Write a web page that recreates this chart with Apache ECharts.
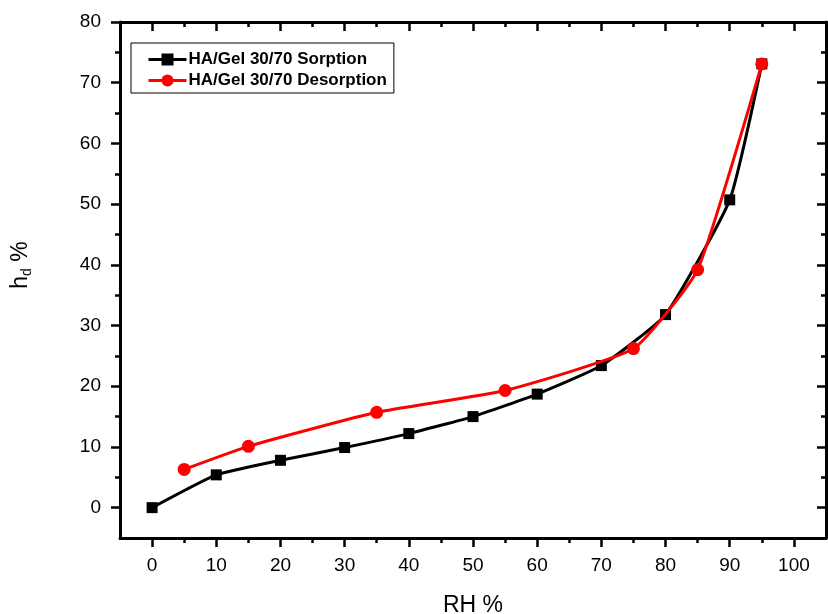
<!DOCTYPE html>
<html>
<head>
<meta charset="utf-8">
<script src="https://cdn.jsdelivr.net/npm/echarts@6/dist/echarts.min.js"></script>
<style>
  html, body { margin: 0; padding: 0; background: #fff; }
  #chart { width: 828px; height: 614px; }
</style>
</head>
<body>
<div id="chart"></div>
<script>
// Relative humidity (%) and hysteresis-loop values h_d (%)
const sorptionRH = [0, 10, 20, 30, 40, 50, 60, 70, 80, 90, 95];
const sorptionHd = [0, 5.4, 7.8, 9.9, 12.2, 15.0, 18.7, 23.4, 31.8, 50.7, 73.1];
const desorptionRH = [5, 15, 35, 55, 75, 85, 95];
const desorptionHd = [6.3, 10.1, 15.7, 19.3, 26.2, 39.2, 73.1];

const sorptionName = 'HA/Gel 30/70 Sorption';
const desorptionName = 'HA/Gel 30/70 Desorption';

const xMajor = [0, 10, 20, 30, 40, 50, 60, 70, 80, 90, 100];
const xMinor = [5, 15, 25, 35, 45, 55, 65, 75, 85, 95];
const yMajor = [0, 10, 20, 30, 40, 50, 60, 70, 80];
const yMinor = [5, 15, 25, 35, 45, 55, 65, 75];

const FONT = '"Liberation Sans", Arial, sans-serif';
const X_RANGE = { min: -5, max: 105 };
const Y_RANGE = { min: -5, max: 80 };

function pairs(xs, ys) { return xs.map((x, i) => [x, ys[i]]); }

// Build one axis; main axis carries the line and labels, others only add ticks.
function makeAxis(kind, position, ticks, opts) {
  const range = kind === 'x' ? X_RANGE : Y_RANGE;
  return {
    type: 'value',
    position: position,
    min: range.min,
    max: range.max,
    splitLine: { show: false },
    axisLine: { show: opts.line, onZero: false, lineStyle: { color: '#000', width: 3 } },
    axisTick: {
      show: true,
      inside: opts.inside,
      length: opts.len,
      customValues: ticks,
      lineStyle: { color: '#000', width: 2.5 }
    },
    axisLabel: opts.labels ? {
      show: true,
      customValues: ticks,
      color: '#000',
      fontFamily: FONT,
      fontSize: 19,
      margin: kind === 'x' ? 18 : 19
    } : { show: false },
    ...(opts.extra || {})
  };
}

const chart = echarts.init(document.getElementById('chart'), null, { renderer: 'canvas' });

chart.setOption({
  animation: false,
  backgroundColor: '#fff',
  grid: { left: 120, right: 2, top: 22, bottom: 76, containLabel: false, outerBoundsMode: 'none' },
  legend: {
    left: 131,
    top: 43,
    orient: 'vertical',
    data: [sorptionName, desorptionName],
    backgroundColor: '#fff',
    borderColor: '#000',
    borderWidth: 1,
    borderRadius: 0,
    padding: [8, 7, 4, 16],
    itemGap: 4,
    itemWidth: 38,
    itemHeight: 15,
    lineStyle: { width: 3 },
    textStyle: { color: '#000', fontFamily: FONT, fontSize: 17, fontWeight: 'bold', padding: [0, 0, 0, -3] }
  },
  xAxis: [
    makeAxis('x', 'bottom', xMajor, { line: true, inside: false, len: 9, labels: true, extra: {
      name: 'RH %', nameLocation: 'middle', nameGap: 56,
      nameTextStyle: { color: '#000', fontFamily: FONT, fontSize: 23 }
    } }),
    makeAxis('x', 'bottom', xMinor, { line: false, inside: false, len: 5, labels: false }),
    makeAxis('x', 'top', xMajor, { line: true, inside: true, len: 9, labels: false }),
    makeAxis('x', 'top', xMinor, { line: false, inside: true, len: 5, labels: false })
  ],
  yAxis: [
    makeAxis('y', 'left', yMajor, { line: true, inside: false, len: 9, labels: true, extra: {
      name: 'h{sub|d} %', nameLocation: 'middle', nameGap: 86,
      nameTextStyle: {
        color: '#000', fontFamily: FONT, fontSize: 23, padding: [0, 0, 0, 30],
        rich: { sub: { fontFamily: FONT, fontSize: 14, color: '#000', verticalAlign: 'bottom', padding: [12, 0, 0, 0] } }
      }
    } }),
    makeAxis('y', 'left', yMinor, { line: false, inside: false, len: 5, labels: false }),
    makeAxis('y', 'right', yMajor, { line: true, inside: true, len: 9, labels: false }),
    makeAxis('y', 'right', yMinor, { line: false, inside: true, len: 5, labels: false })
  ],
  series: [
    {
      name: sorptionName,
      type: 'line',
      xAxisIndex: 0,
      yAxisIndex: 0,
      data: pairs(sorptionRH, sorptionHd),
      smooth: 0.15,
      symbol: 'rect',
      symbolSize: 11,
      color: '#000',
      lineStyle: { color: '#000', width: 3 },
      itemStyle: { color: '#000' },
      z: 2
    },
    {
      name: desorptionName,
      type: 'line',
      xAxisIndex: 0,
      yAxisIndex: 0,
      data: pairs(desorptionRH, desorptionHd),
      smooth: 0.15,
      symbol: 'circle',
      symbolSize: 13,
      color: '#ff0000',
      lineStyle: { color: '#ff0000', width: 3 },
      itemStyle: { color: '#ff0000' },
      z: 3
    }
  ]
});
</script>
</body>
</html>
